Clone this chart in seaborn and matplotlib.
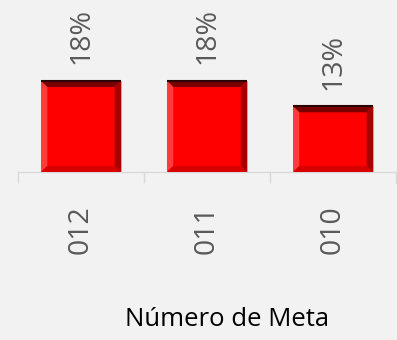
import matplotlib
matplotlib.use("Agg")
import matplotlib.pyplot as plt
from matplotlib.patches import Polygon
import seaborn as sns
import pandas as pd

# data
metas = ["012", "011", "010"]
porcentajes = [0.18, 0.18, 0.13]
etiquetas = ["18%", "18%", "13%"]

df = pd.DataFrame({"meta": metas, "pct": porcentajes})

sns.set_style("white")
plt.rcParams["font.family"] = ["Open Sans", "DejaVu Sans"]

bg = "#F2F2F2"
fig = plt.figure(figsize=(3.97, 3.40), dpi=100, facecolor=bg)
ax = fig.add_axes([18 / 397, 168 / 340, 378 / 397, 172 / 340])
ax.set_facecolor(bg)
ax.set_xlim(-0.5, 2.5)
ax.set_ylim(0, 0.34)

sns.barplot(data=df, x="meta", y="pct", color="#FF0000", width=0.635,
            edgecolor="#E8A0A0", linewidth=0.6, saturation=1, ax=ax)

# bevel look: shaded borders built from each bar's own geometry
bx, by = 0.05, 0.012
for bar in ax.patches:
    x0, w, h = bar.get_x(), bar.get_width(), bar.get_height()
    x1 = x0 + w
    faces = [
        ([(x0, h), (x1, h), (x1 - bx, h - by), (x0 + bx, h - by)], "#7A0000"),
        ([(x1, h), (x1, 0), (x1 - bx, by), (x1 - bx, h - by)], "#A80000"),
        ([(x0, h), (x0, 0), (x0 + bx, by), (x0 + bx, h - by)], "#FF3B3B"),
        ([(x0, 0), (x1, 0), (x1 - bx, by), (x0 + bx, by)], "#D80000"),
    ]
    for pts, c in faces:
        ax.add_patch(Polygon(pts, closed=True, facecolor=c, edgecolor="none", zorder=3))
    ax.plot([x0, x1], [h, h], color="#2A0000", lw=1.5, solid_capstyle="butt", zorder=4)

for bar, txt in zip(ax.patches, etiquetas):
    ax.annotate(txt, (bar.get_x() + bar.get_width() / 2, bar.get_height()),
                xytext=(0, 12), textcoords="offset points", rotation=90,
                ha="center", va="bottom", fontsize=20.5, color="#595959")

ax.set_yticks([])
for s in ["top", "right", "left"]:
    ax.spines[s].set_visible(False)
ax.spines["bottom"].set_color("#D9D9D9")
ax.spines["bottom"].set_linewidth(1)

ax.set_xticks(range(len(metas)))
ax.set_xticklabels(metas, rotation=90, fontsize=20.5, color="#595959")
ax.tick_params(axis="x", which="major", bottom=False, length=0, pad=24)
ax.set_xticks([-0.5, 0.5, 1.5, 2.5], minor=True)
ax.tick_params(axis="x", which="minor", bottom=True, length=8, color="#D9D9D9", width=1)

ax.set_xlabel("Número de Meta", fontsize=18.5, color="black")
ax.xaxis.set_label_coords(0.553, -0.86)
ax.xaxis.label.set_va("center")
ax.set_ylabel("")

fig.savefig("out.png", dpi=100, facecolor=bg)
